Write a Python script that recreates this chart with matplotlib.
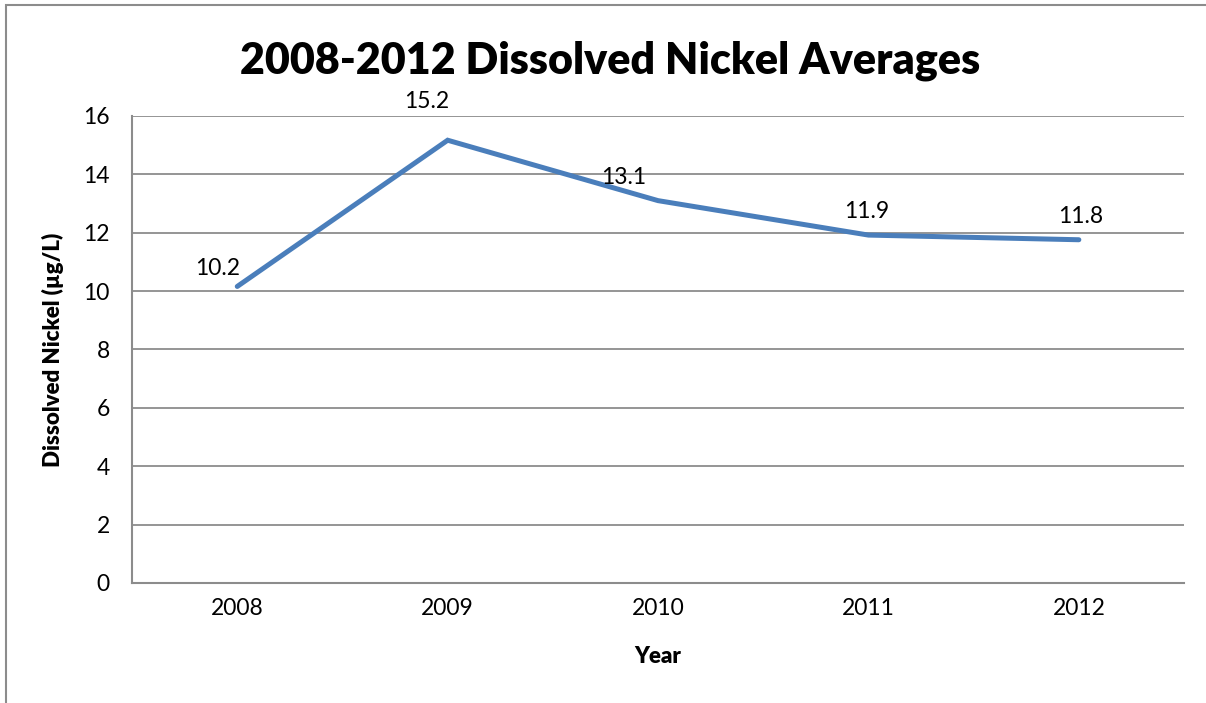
import matplotlib.pyplot as plt
from matplotlib.patches import Rectangle

plt.rcParams['font.family'] = ['Lato', 'DejaVu Sans']

# data
years = ['2008', '2009', '2010', '2011', '2012']
nickel = [10.16, 15.17, 13.1, 11.92, 11.76]
labels = ['10.2', '15.2', '13.1', '11.9', '11.8']
yticks = [0, 2, 4, 6, 8, 10, 12, 14, 16]

# label offsets (points), as placed in the original
label_offsets = [(-14, 13), (-15, 28), (-25, 17), (-1, 17), (1, 17)]

fig = plt.figure(figsize=(12.06, 7.03), dpi=100)
ax = fig.add_axes([0.1095, 0.1707, 0.8723, 0.6643])

x = list(range(len(years)))
ax.plot(x, nickel, color='#4a7ebb', linewidth=3.6, solid_capstyle='round',
        solid_joinstyle='miter', zorder=3)

for xi, v, lab, off in zip(x, nickel, labels, label_offsets):
    ax.annotate(lab, (xi, v), xytext=off, textcoords='offset points',
                ha='center', va='center', fontsize=16.5)

ax.set_xlim(-0.5, len(years) - 0.5)
ax.set_ylim(0, 16)
ax.set_xticks(x)
ax.set_xticklabels(years)
ax.set_yticks(yticks)
ax.grid(axis='y', color='#8c8c8c', linewidth=1.3)
ax.set_axisbelow(True)
for s in ['top', 'right']:
    ax.spines[s].set_visible(False)
for s in ['left', 'bottom']:
    ax.spines[s].set_color('#8c8c8c')
    ax.spines[s].set_linewidth(1.5)
ax.tick_params(axis='both', length=0, labelsize=16.5)
ax.tick_params(axis='y', pad=16)
ax.tick_params(axis='x', pad=11)

ax.set_xlabel('Year', fontsize=16, fontweight='heavy', labelpad=19)
ax.set_ylabel('Dissolved Nickel (µg/L)', fontsize=16, fontweight='heavy', labelpad=14)
fig.text(0.506, 0.913, '2008-2012 Dissolved Nickel Averages', ha='center', va='center',
         fontsize=31, fontweight='heavy')

# chart border (cropped at the right and bottom)
fig.patches.append(Rectangle((6 / 1206, -0.1), 1.2, 1.1 - 5 / 703, transform=fig.transFigure,
                             fill=False, edgecolor='#8c8c8c', linewidth=1.5))

fig.savefig('out.png', dpi=100)
